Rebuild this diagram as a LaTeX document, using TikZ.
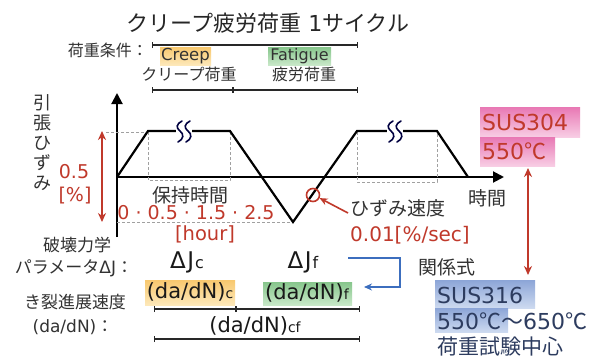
\documentclass[tikz,border=0pt]{standalone}
\usepackage{fontspec}
\setmainfont{Noto Sans CJK JP}
\newfontfamily\lt{DejaVu Sans}
\usetikzlibrary{arrows.meta}
\definecolor{dred}{RGB}{192,57,43}
\definecolor{txt}{RGB}{50,50,50}
\definecolor{ln}{RGB}{40,40,40}
\definecolor{dsh}{RGB}{160,160,160}
\definecolor{blu}{RGB}{60,110,190}
\definecolor{navy}{RGB}{45,60,95}
\tikzset{
  lbl/.style={inner sep=0pt, text=txt, font=\fontsize{16}{19}\selectfont},
  mid/.style={inner sep=0pt, text=txt, font=\fontsize{19}{21}\selectfont},
  rtxt/.style={inner sep=0pt, text=dred, font=\fontsize{19}{21}\selectfont},
  big/.style={inner sep=0pt, text=black!90, font=\fontsize{21}{23}\selectfont},
  bar/.style={line width=1.4pt, draw=ln, {Bar[width=6pt]}-{Bar[width=6pt]}},
  tick/.style={line width=1.4pt, draw=ln},
  axis/.style={line width=2pt, draw=black, -{Triangle[length=11pt,width=11pt]}},
  wave/.style={line width=2.2pt, draw=black, line join=miter},
  guide/.style={line width=0.9pt, draw=dsh, dash pattern=on 3pt off 2pt},
  redarr/.style={line width=1.6pt, draw=dred, {Stealth[length=9pt,width=8pt]}-{Stealth[length=9pt,width=8pt]}},
  sus/.style={inner sep=0pt, font=\fontsize{22}{24}\selectfont, anchor=west}
}
\newcommand{\sbc}[1]{{\fontsize{14}{14}\selectfont #1}}
\begin{document}
\begin{tikzpicture}[x=1pt,y=-1pt]
\useasboundingbox[fill=white] (0,0) rectangle (590,360);

% title
\node[inner sep=0pt, text=black!85, font=\fontsize{22}{24}\selectfont] (title) at (268,23) {クリープ疲労荷重\hspace{7pt}{\lt 1}サイクル};

% loading conditions
\node[lbl, anchor=east] (cond) at (148,50) {荷重条件：};
\coordinate (l1a) at (152,45); \coordinate (l1b) at (358,45);
\draw[bar] (l1a) -- (l1b);
\shade[top color={rgb,255:red,248;green,200;blue,110}, bottom color={rgb,255:red,253;green,232;blue,185}] (160,47) rectangle (211,65);
\node[lbl, font=\fontsize{16.5}{19}\lt] (creep) at (185.5,56) {Creep};
\shade[top color={rgb,255:red,135;green,198;blue,140}, bottom color={rgb,255:red,200;green,232;blue,200}] (268,47) rectangle (331,65);
\node[lbl, font=\fontsize{16}{19}\lt] (fat) at (299.5,56) {Fatigue};
\node[lbl] (cload) at (189,74) {クリープ荷重};
\node[lbl] (fload) at (304,74) {疲労荷重};
\coordinate (l2a) at (152,90); \coordinate (l2b) at (358,90); \coordinate (l2m) at (233,90);
\draw[bar] (l2a) -- (l2b);
\draw[tick] ([yshift=-3pt]l2m) -- ([yshift=3pt]l2m);

% axes
\coordinate (o) at (117,177);
\draw[axis] (117,237) -- (117,93);
\draw[axis] (117,177) -- (504,177);
\node[mid, align=center, font=\fontsize{18}{20}\selectfont] (ylab) at (43,143) {引\\張\\ひ\\ず\\み};
\node[mid] (tlab) at (487,198) {時間};

% guides
\draw[guide] (106,132) -- (148,132);
\draw[guide] (148,132) -- (148,180) -- (230,180) -- (230,132);
\draw[guide] (357,132) -- (357,182) -- (437,182) -- (437,132);
\draw[guide] (117,222) -- (293,222);

% waveform
\coordinate (w1) at (148,131); \coordinate (w2) at (230,131);
\coordinate (w3) at (293,222); \coordinate (w4) at (357,131);
\coordinate (w5) at (437,131); \coordinate (w6) at (468,177);
\draw[wave] (o) -- (w1) -- (w2) -- (w3) -- (w4) -- (w5) -- (w6);

% break marks
\foreach \bx in {184,395}{
  \fill[white] (\bx-8,127) rectangle (\bx+8,135);
  \foreach \dx in {-4,4}{
    \draw[line width=1.6pt, draw=black!75!blue, line cap=round]
      (\bx+\dx+2,121) .. controls (\bx+\dx-4,124) and (\bx+\dx-4,128) .. (\bx+\dx,131)
      .. controls (\bx+\dx+4,134) and (\bx+\dx+4,139) .. (\bx+\dx-2,142);
  }
}

% strain amplitude
\draw[redarr] (102,131) -- (102,222);
\node[rtxt, font=\fontsize{19}{21}\lt] (amp) at (74,172) {0.5};
\node[rtxt, font=\fontsize{19}{21}\lt] (pct) at (75,196) {[\%]};

% hold time
\node[mid] (hold) at (190,195) {保持時間};
\node[rtxt, font=\fontsize{19}{21}\lt] (holdv) at (196,213) {0 · 0.5 · 1.5 · 2.5};
\node[rtxt, font=\fontsize{19.5}{21}\lt] (hour) at (205,234) {[hour]};

% strain rate
\node[draw=dred, line width=1.6pt, circle, minimum size=13pt, inner sep=0pt] (circ) at (313,195) {};
\node[mid, anchor=west] (rate) at (350,208) {ひずみ速度};
\node[rtxt, font=\fontsize{20}{21}\lt, anchor=west] (ratev) at (350,235) {0.01[\%/sec]};
\draw[line width=1.6pt, draw=dred, -{Stealth[length=8pt,width=7pt]}] ([shift={(-2pt,-5pt)}]rate.west) -- (circ.-25);

% SUS304
\shade[top color={rgb,255:red,232;green,120;blue,180}, bottom color={rgb,255:red,248;green,205;blue,228}] (480,107) rectangle (580,137);
\shade[top color={rgb,255:red,232;green,120;blue,180}, bottom color={rgb,255:red,248;green,205;blue,228}] (480,137) rectangle (555,166);
\node[sus, text=dred] (s304) at (482,122) {\lt SUS304};
\node[sus, text=dred] (t304) at (482,151) {{\lt 550}℃};
\coordinate (ra) at (528,168); \coordinate (rb) at (528,275);
\draw[redarr] (ra) -- (rb);

% fracture mechanics parameter
\node[lbl, font=\fontsize{17}{19}\selectfont] (fm) at (77,245) {破壊力学};
\node[lbl, font=\fontsize{17}{19}\selectfont] (par) at (74,268) {パラメータ{\lt ΔJ}：};
\node[big, font=\fontsize{23}{25}\lt] (jc) at (187,262) {Δ\kern1.5pt J\kern1pt{\fontsize{16}{16}\selectfont c}};
\node[big, font=\fontsize{23}{25}\lt] (jf) at (303,262) {Δ\kern1.5pt J\kern1pt{\fontsize{16}{16}\selectfont f}};

% crack growth rate
\node[lbl, font=\fontsize{17}{19}\selectfont] (cg) at (75,302) {き裂進展速度};
\node[lbl, font=\fontsize{17}{19}\selectfont] (cgv) at (73,327) {{\lt (da/dN)}：};
\shade[top color={rgb,255:red,248;green,200;blue,110}, bottom color={rgb,255:red,253;green,232;blue,185}] (145,280) rectangle (235,305);
\node[big, font=\fontsize{21}{23}\lt] (dc) at (190,292) {(da/dN)\sbc{c}};
\shade[top color={rgb,255:red,135;green,198;blue,140}, bottom color={rgb,255:red,200;green,232;blue,200}] (263,282) rectangle (352,305);
\node[big, font=\fontsize{21}{23}\lt] (df) at (307,293) {(da/dN)\sbc{f}};
\coordinate (l3a) at (154,309); \coordinate (l3b) at (360,309); \coordinate (l3m) at (236,309);
\draw[bar] (l3a) -- (l3b);
\draw[tick] ([yshift=-3pt]l3m) -- ([yshift=3pt]l3m);
\node[big, font=\fontsize{21}{23}\lt] (dcf) at (255,326) {(da/dN)\sbc{cf}};
\coordinate (l4a) at (154,339); \coordinate (l4b) at (360,339);
\draw[bar] (l4a) -- (l4b);

% relation
\coordinate (b1) at (348,258); \coordinate (b2) at (400,258);
\coordinate (b3) at (400,287); \coordinate (b4) at (364,287);
\draw[line width=1.6pt, draw=blu, -{Stealth[length=8pt,width=7pt]}] (b1) -- (b2) -- (b3) -- (b4);
\node[mid] (rel) at (447,267) {関係式};

% SUS316
\shade[top color={rgb,255:red,140;green,165;blue,215}, bottom color={rgb,255:red,205;green,218;blue,240}] (435,280) rectangle (535,308);
\shade[top color={rgb,255:red,140;green,165;blue,215}, bottom color={rgb,255:red,205;green,218;blue,240}] (435,308) rectangle (508,332);
\node[sus, text=navy] (s316) at (437,295) {\lt SUS316};
\node[sus, text=navy] (t316) at (437,321) {{\lt 550}℃～{\lt 650}℃};
\node[sus, text=navy, font=\fontsize{21}{23}\selectfont] (c316) at (437,347) {荷重試験中心};
\end{tikzpicture}
\end{document}
